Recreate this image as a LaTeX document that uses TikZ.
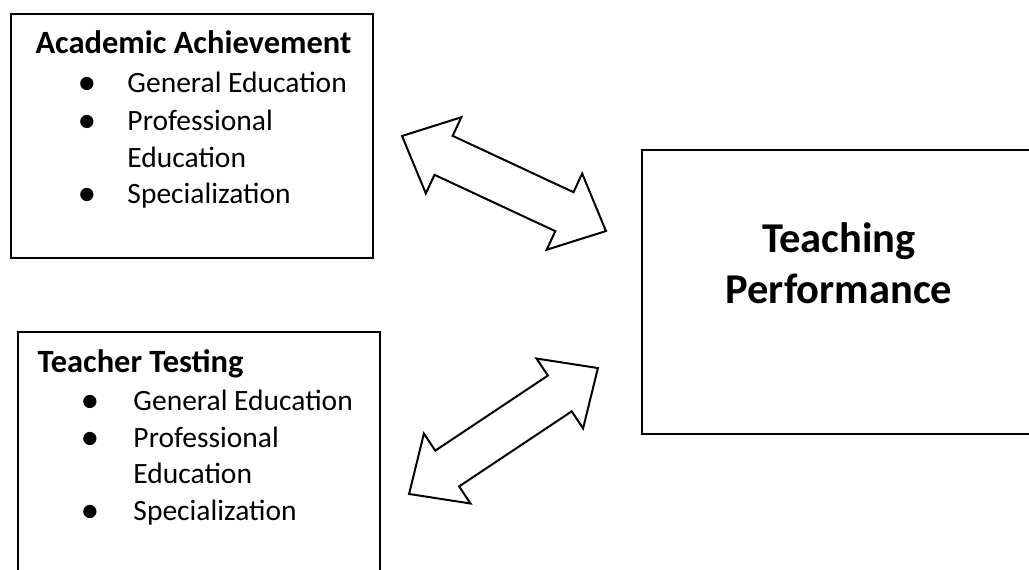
\documentclass[tikz,border=0pt]{standalone}
\usepackage{fontspec}
\setmainfont{Carlito}
\usetikzlibrary{shapes.arrows}

\begin{document}
\begin{tikzpicture}[x=0.4pt,y=-0.4pt]
\tikzstyle{box} = [rectangle, draw, line width=0.7pt, anchor=north west, inner sep=0pt]
\tikzstyle{head} = [anchor=base west, inner sep=0pt, font=\fontsize{13}{15}\bfseries]
\tikzstyle{item} = [anchor=base west, inner sep=0pt, font=\fontsize{11.8}{14}\selectfont]
\tikzstyle{dot} = [anchor=base, inner sep=0pt, font=\fontsize{15}{17}\selectfont]
\tikzstyle{big} = [anchor=base, inner sep=0pt, font=\fontsize{17}{20}\bfseries]
\tikzstyle{link} = [double arrow, draw, line width=0.8pt, fill=white, inner sep=0pt, inner ysep=8.2pt, double arrow head extend=8.2pt, double arrow tip angle=85]

\path[use as bounding box, clip] (0,0) rectangle (1029,569);

% left boxes
\node (acad) [box, minimum width=144.8pt, minimum height=97.6pt] at (10,13) {};
\node (acadT) [head] at (35,53) {Academic Achievement};
\node (acadD1) [dot] at (87,94) {•};
\node (acad1) [item] at (127,92) {General Education};
\node (acadD2) [dot] at (87,132) {•};
\node (acad2) [item] at (127,130) {Professional};
\node (acad3) [item] at (127,167) {Education};
\node (acadD4) [dot] at (87,205) {•};
\node (acad4) [item] at (127,203) {Specialization};

\node (test) [box, minimum width=144.8pt, minimum height=110pt] at (17,331) {};
\node (testT) [head] at (37,372) {Teacher Testing};
\node (testD1) [dot] at (90,412) {•};
\node (test1) [item] at (133,410) {General Education};
\node (testD2) [dot] at (90,449) {•};
\node (test2) [item] at (133,447) {Professional};
\node (test3) [item] at (133,483) {Education};
\node (testD4) [dot] at (90,522) {•};
\node (test4) [item] at (133,520) {Specialization};

% right box
\node (perf) [box, minimum width=168pt, minimum height=113.6pt] at (641,149) {};
\node (perfA) [big] at (839,252) {Teaching};
\node (perfB) [big] at (839,303) {Performance};

% block arrows
\node (link1) [link, rotate=-25, minimum height=90pt] at (504,183.5) {};
\node (link2) [link, rotate=33.7, minimum height=90.8pt] at (503.5,431) {};

\end{tikzpicture}
\end{document}
